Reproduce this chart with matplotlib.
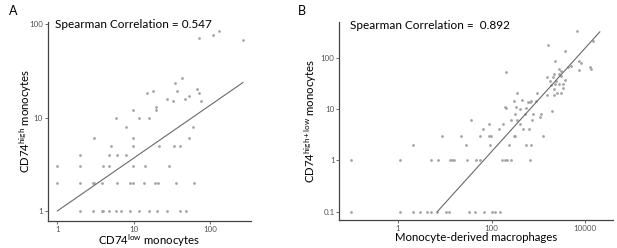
import matplotlib
matplotlib.use("Agg")
import matplotlib.pyplot as plt
from matplotlib.ticker import FixedLocator, FixedFormatter, NullLocator

# panel A: CD74 low vs CD74 high monocytes
a_low = [2, 2.9, 3.8, 4, 4.8, 5.8, 6.8, 8.8, 11.6, 15.9, 20.4, 27.3, 39.6, 48,
         1, 2, 2.9, 3.05, 3.9, 6, 8.8, 9.7, 13.6, 18.7, 20.6, 35.2, 61,
         1, 2, 4, 4.8, 9.7, 13.9, 28.7,
         2, 4.8, 6, 8,
         5, 9.7, 21.5, 33.4, 39.6,
         3, 9.7, 53,
         8, 58.7,
         5.8, 11.6, 15.7,
         9.7, 19.6, 19.6,
         14.8, 17.7, 27.3, 32.4, 34.8, 36.6, 42.5, 46.1, 53.1, 66.9, 71.1, 75.5,
         71.1, 108, 130, 268]
a_high = [1] * 14 + [2] * 13 + [3] * 7 + [4] * 4 + [5] * 5 + [6] * 3 + [8] * 2 + \
         [10, 10, 10] + [12, 12, 13] + \
         [18.2, 19.1, 16, 15.2, 23.3, 19.1, 26.3, 16, 17, 20.2, 18.2, 15.2] + \
         [70.3, 76.3, 84.9, 67.5]
a_fit_x = [1, 268]
a_fit_y = [1, 23.8]
a_rho = 0.547

# panel B: monocyte-derived macrophages vs CD74 high+low monocytes
b_mac = [0.1, 1.1, 2.1, 3.0, 4.1, 5.0, 6.9, 10.8, 12, 33.5, 43.5, 70, 103, 116, 148,
         0.1, 1.1, 5.0, 7.2, 13.2, 14.3, 15.8, 30, 46, 56, 169, 189, 212, 262, 654,
         2.1, 28.4, 90.6, 230, 547, 687,
         8.9, 22, 57, 90, 98, 300, 323, 1277,
         65, 147, 478, 620,
         90, 405, 174,
         37, 254, 357, 745,
         1104, 323, 520, 770, 1122,
         189, 334, 394, 555, 198,
         300, 449, 593, 665, 906, 700,
         352, 917, 1530,
         6760, 1607, 3690, 2300, 7450, 8090, 12600, 13400, 7330, 199,
         2800, 2990, 2710, 4875, 4280, 2085, 1530, 3085, 2170,
         1770, 2377, 3630, 2263, 1890, 2710, 3350,
         2120, 3400, 2120, 2455, 2990, 1920, 15000]
b_mono = [0.1] * 15 + [1] * 15 + [2] * 6 + [3] * 8 + [4] * 4 + [5] * 3 + [6] * 4 + \
         [7, 8, 8, 8, 8] + [10.9, 10.9, 9.9, 10.6, 10.5] + \
         [14, 14.8, 13.7, 13.9, 14.3, 14.1] + [20, 20, 19] + \
         [331, 179, 137, 86, 86, 80, 66, 59, 57, 53,
          59, 54, 47, 67, 65, 41, 41, 44, 47,
          35, 35, 36, 30, 29, 30, 30,
          24, 26, 19, 20, 20, 9.1, 211]
b_fit_x = [6.9, 20500]
b_fit_y = [0.1, 316]
b_rho = 0.892

pt_color = "#a3a3a3"
line_color = "#6a6a6a"
spine_color = "#444444"
tick_color = "#555555"

plt.rcParams["font.family"] = ["Lato", "DejaVu Sans"]
plt.rcParams["mathtext.fontset"] = "custom"
plt.rcParams["mathtext.rm"] = "Lato"
plt.rcParams["mathtext.it"] = "Lato"

fig = plt.figure(figsize=(6.17, 2.48), dpi=100)
ax_a = fig.add_axes([0.0773, 0.110, 0.329, 0.802])
ax_b = fig.add_axes([0.550, 0.113, 0.443, 0.800])


def style_axes(ax, xlim, ylim, xticks, xlabels, yticks, ylabels):
    ax.set_xscale("log")
    ax.set_yscale("log")
    ax.set_xlim(*xlim)
    ax.set_ylim(*ylim)
    ax.xaxis.set_major_locator(FixedLocator(xticks))
    ax.xaxis.set_major_formatter(FixedFormatter(xlabels))
    ax.yaxis.set_major_locator(FixedLocator(yticks))
    ax.yaxis.set_major_formatter(FixedFormatter(ylabels))
    ax.xaxis.set_minor_locator(NullLocator())
    ax.yaxis.set_minor_locator(NullLocator())
    ax.spines["top"].set_visible(False)
    ax.spines["right"].set_visible(False)
    for s in ("left", "bottom"):
        ax.spines[s].set_color(spine_color)
        ax.spines[s].set_linewidth(0.9)
    ax.tick_params(length=2, width=0.6, color=tick_color, labelcolor=tick_color,
                   labelsize=5.8, pad=1.5)


ax_a.scatter(a_low, a_high, s=4, color=pt_color, linewidths=0)
ax_a.plot(a_fit_x, a_fit_y, color=line_color, lw=0.8)
style_axes(ax_a, (0.75, 337), (0.787, 106),
           [1, 10, 100], ["1", "10", "100"], [1, 10, 100], ["1", "10", "100"])
ax_a.set_xlabel(r"CD74$^{\mathregular{low}}$ monocytes", fontsize=8.2)
ax_a.set_ylabel(r"CD74$^{\mathregular{high}}$ monocytes", fontsize=8.2)
ax_a.xaxis.set_label_coords(0.5, -0.058)
ax_a.yaxis.set_label_coords(-0.068, 0.5)
ax_a.text(0.036, 0.985, "Spearman Correlation = %.3f" % a_rho, transform=ax_a.transAxes,
          fontsize=8.5, va="center", ha="left")

ax_b.scatter(b_mac, b_mono, s=4, color=pt_color, linewidths=0)
ax_b.plot(b_fit_x, b_fit_y, color=line_color, lw=0.8)
style_axes(ax_b, (0.0557, 38600), (0.0689, 501),
           [1, 100, 10000], ["1", "100", "10000"],
           [0.1, 1, 10, 100], ["0.1", "1", "10", "100"])
ax_b.set_xlabel("Monocyte-derived macrophages", fontsize=8.2)
ax_b.set_ylabel(r"CD74$^{\mathregular{high+low}}$ monocytes", fontsize=8.2)
ax_b.xaxis.set_label_coords(0.5, -0.062)
ax_b.yaxis.set_label_coords(-0.075, 0.5)
ax_b.text(0.04, 0.98, "Spearman Correlation =  %.3f" % b_rho, transform=ax_b.transAxes,
          fontsize=8.5, va="center", ha="left")

fig.text(9 / 617, 1 - 11 / 248, "A", fontsize=9, va="center", ha="left")
fig.text(298 / 617, 1 - 11 / 248, "B", fontsize=9, va="center", ha="left")

fig.savefig("out.png", dpi=100)
